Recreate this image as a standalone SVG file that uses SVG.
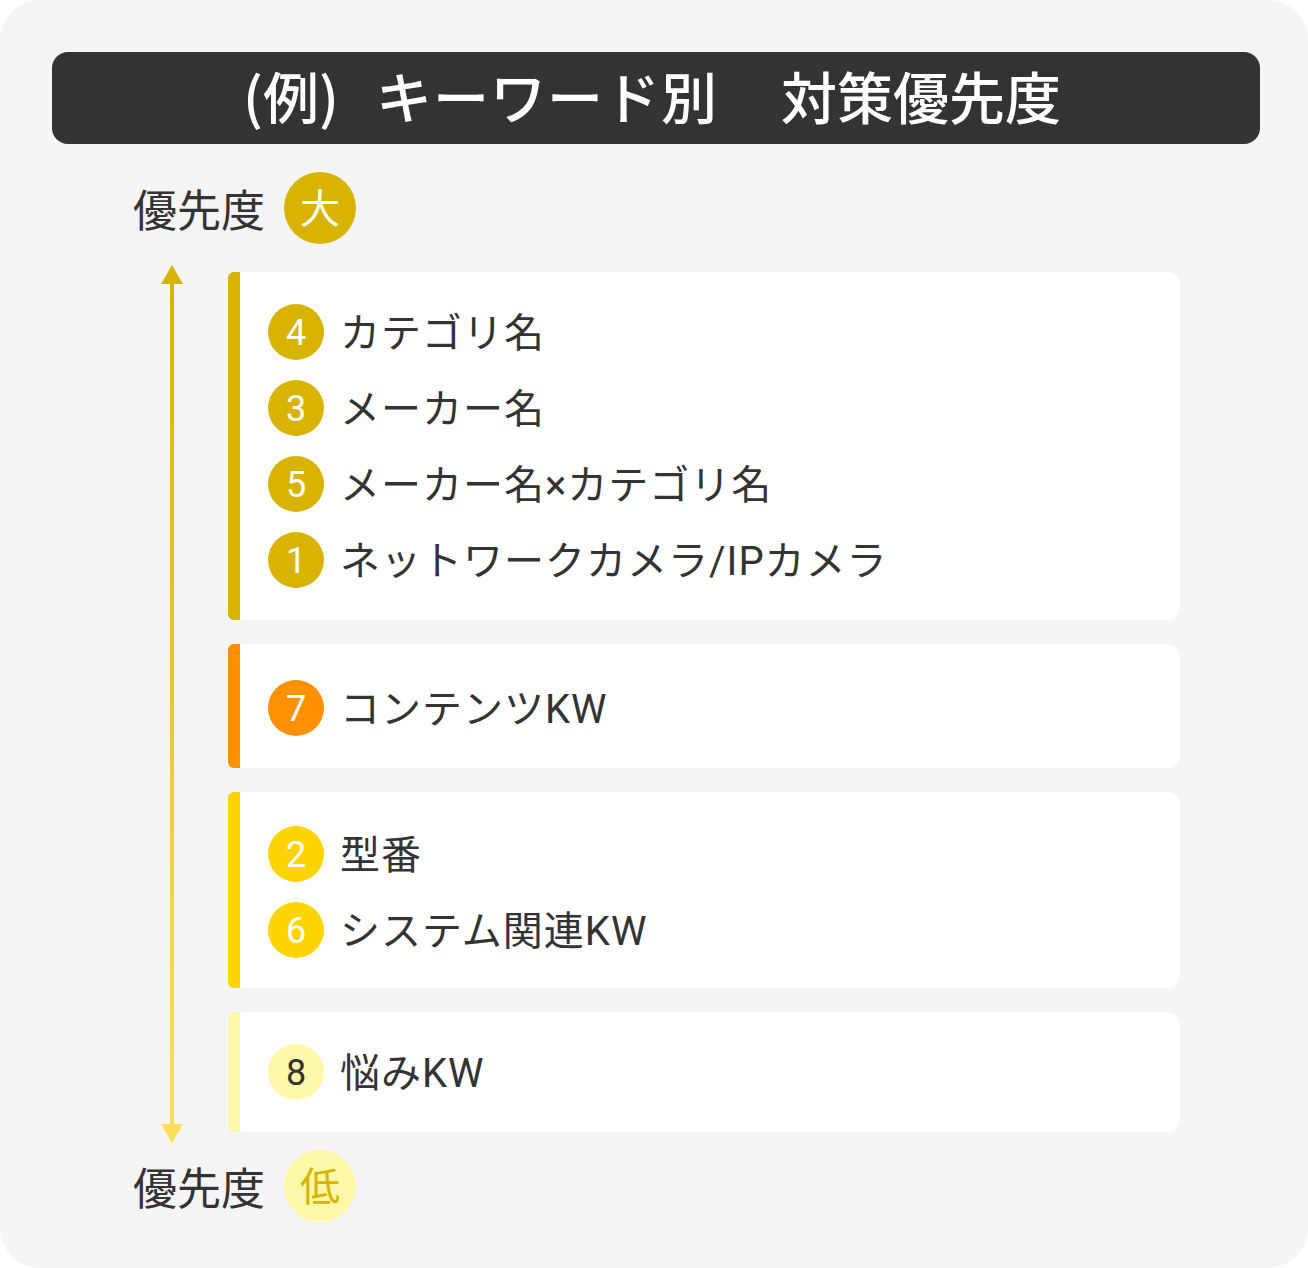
<svg xmlns="http://www.w3.org/2000/svg" width="1308" height="1268" viewBox="0 0 1308 1268">
<defs>
<style>
.jp{font-family:"Noto Sans CJK JP","Noto Sans",sans-serif;}
.row{font-family:Roboto,"Noto Sans CJK JP",sans-serif;font-size:40px;fill:#333333;letter-spacing:1px;}
.num{font-family:Roboto,"Noto Sans",sans-serif;font-size:36px;fill:#ffffff;text-anchor:middle;}
.lbl{font-family:"Noto Sans CJK JP",sans-serif;font-size:44px;fill:#333333;}
.card{fill:#ffffff;}
</style>
<linearGradient id="ag" x1="0" y1="0" x2="0" y2="1">
<stop offset="0" stop-color="#D8B400"/>
<stop offset="1" stop-color="#FFDF5A"/>
</linearGradient>
</defs>
<rect x="0" y="0" width="1308" height="1268" rx="40" fill="#F5F5F5"/>
<g id="title">
<rect x="52" y="52" width="1208" height="92" rx="16" fill="#333333"/>
<text y="119" class="jp" font-size="56" font-weight="500" fill="#ffffff"><tspan x="243">(例)</tspan><tspan x="376" letter-spacing="1">キーワード別</tspan><tspan x="781">対策優先度</tspan></text>
</g>
<g id="label-high">
<text x="133" y="227" class="lbl">優先度</text>
<circle cx="320" cy="208" r="36" fill="#D8B400"/>
<text x="320" y="223" class="jp" font-size="40" fill="#ffffff" text-anchor="middle">大</text>
</g>
<g id="label-low">
<text x="133" y="1205" class="lbl">優先度</text>
<circle cx="320" cy="1186" r="36" fill="#FFF8A8"/>
<text x="320" y="1201" class="jp" font-size="40" fill="#D8B400" text-anchor="middle">低</text>
</g>
<g id="connectors">
<rect x="170" y="280" width="4" height="848" fill="url(#ag)"/>
<polygon points="172,265 183,284 161,284" fill="#D8B400"/>
<polygon points="172,1143 183,1124 161,1124" fill="#FFDF5A"/>
</g>
<g id="card-1">
<path d="M234,272 H240 V620 H234 a6,6 0 0 1 -6,-6 V278 a6,6 0 0 1 6,-6 Z" fill="#D8B400"/>
<path class="card" d="M240,272 H1168 a12,12 0 0 1 12,12 V608 a12,12 0 0 1 -12,12 H240 Z"/>
<circle cx="296" cy="332" r="28" fill="#D8B400"/><text x="296" y="345" class="num">4</text>
<text x="340" y="347" class="row">カテゴリ名</text>
<circle cx="296" cy="408" r="28" fill="#D8B400"/><text x="296" y="421" class="num">3</text>
<text x="340" y="423" class="row">メーカー名</text>
<circle cx="296" cy="484" r="28" fill="#D8B400"/><text x="296" y="497" class="num">5</text>
<text x="340" y="499" class="row">メーカー名×カテゴリ名</text>
<circle cx="296" cy="560" r="28" fill="#D8B400"/><text x="296" y="573" class="num">1</text>
<text x="340" y="575" class="row">ネットワークカメラ/IPカメラ</text>
</g>
<g id="card-2">
<path d="M234,644 H240 V768 H234 a6,6 0 0 1 -6,-6 V650 a6,6 0 0 1 6,-6 Z" fill="#FF9100"/>
<path class="card" d="M240,644 H1168 a12,12 0 0 1 12,12 V756 a12,12 0 0 1 -12,12 H240 Z"/>
<circle cx="296" cy="708" r="28" fill="#FF9100"/><text x="296" y="721" class="num">7</text>
<text x="340" y="723" class="row">コンテンツKW</text>
</g>
<g id="card-3">
<path d="M234,792 H240 V988 H234 a6,6 0 0 1 -6,-6 V798 a6,6 0 0 1 6,-6 Z" fill="#FFD400"/>
<path class="card" d="M240,792 H1168 a12,12 0 0 1 12,12 V976 a12,12 0 0 1 -12,12 H240 Z"/>
<circle cx="296" cy="854" r="28" fill="#FFD400"/><text x="296" y="867" class="num">2</text>
<text x="340" y="869" class="row">型番</text>
<circle cx="296" cy="930" r="28" fill="#FFD400"/><text x="296" y="943" class="num">6</text>
<text x="340" y="945" class="row">システム関連KW</text>
</g>
<g id="card-4">
<path d="M234,1012 H240 V1132 H234 a6,6 0 0 1 -6,-6 V1018 a6,6 0 0 1 6,-6 Z" fill="#FFF8A8"/>
<path class="card" d="M240,1012 H1168 a12,12 0 0 1 12,12 V1120 a12,12 0 0 1 -12,12 H240 Z"/>
<circle cx="296" cy="1072" r="28" fill="#FFF8A8"/><text x="296" y="1085" class="num" style="fill:#333333">8</text>
<text x="340" y="1087" class="row">悩みKW</text>
</g>
</svg>
